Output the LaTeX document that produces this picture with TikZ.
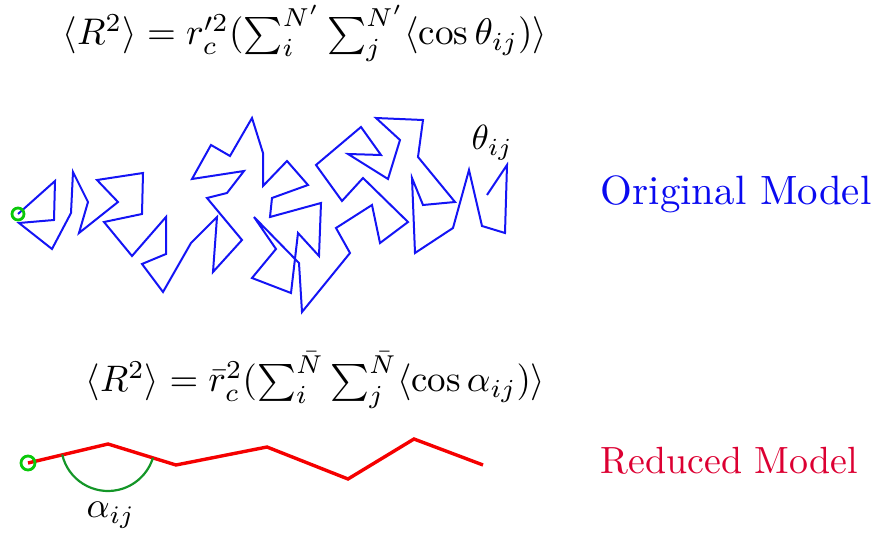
\documentclass[tikz,border=0pt]{standalone}
\usepackage{fontspec}
\usepackage{amsmath}
\usetikzlibrary{calc}
\definecolor{chainblue}{RGB}{20,20,245}
\definecolor{origblue}{RGB}{10,10,240}
\definecolor{redline}{RGB}{245,0,0}
\definecolor{redtext}{RGB}{220,0,50}
\definecolor{startgreen}{RGB}{10,200,10}
\definecolor{arcgreen}{RGB}{20,150,40}
\begin{document}
\begin{tikzpicture}[x=1pt,y=-1pt,
  lbl/.style={inner sep=0pt,anchor=base west},
  chainline/.style={draw=chainblue,line width=2pt,line join=miter},
  redchain/.style={draw=redline,line width=3.4pt,line join=miter},
  startmark/.style={draw=startgreen,line width=2.8pt}]
\useasboundingbox (0,0) rectangle (871,537);
% equations
\node[lbl,scale=3.71] (eqone) at (62,45) {$\langle R^2\rangle = r'^2_c(\sum_i^{N'}\sum_j^{N'}\langle\cos\theta_{ij})\rangle$};
\node[lbl,scale=3.69] (eqtwo) at (85,392) {$\langle R^2\rangle = \bar r^2_c(\sum_i^{\bar N}\sum_j^{\bar N}\langle\cos\alpha_{ij})\rangle$};
% labels
\node[lbl,scale=4.09,text=origblue] (orig) at (600,205) {Original Model};
\node[lbl,scale=3.79,text=redtext] (red) at (600,474) {Reduced Model};
\node[lbl,scale=3.5] (theta) at (471,150) {$\theta_{ij}$};
\node[lbl,scale=3.6] (alpha) at (86,518) {$\alpha_{ij}$};
% original chain
\draw[chainline] (18,214)--(55,181)--(54,220)--(19,223)--(52,249)--(71,213)--(73,172)--(88,202)--(79,233)--(118,202)--(97,180)--(143,173)--(142,214)--(104,222)--(132,256)--(166,217)--(166,254)--(142,264)--(163,292)--(191,243)--(217,217)--(213,272)--(242,240)--(207,198)--(227,193)--(244,171)--(192,179)--(211,145)--(230,156)--(252,118)--(263,153)--(263,186)--(287,161)--(308,185)--(272,198)--(270,217)--(321,203)--(319,256)--(298,233)--(291,293)--(252,278)--(276,249)--(254,217)--(299,263)--(302,312)--(350,253)--(336,228)--(372,205)--(380,243)--(408,222)--(363,178)--(342,201)--(316,165)--(361,127)--(381,155)--(348,154)--(388,179)--(400,140)--(376,118)--(423,120)--(418,157)--(455,202)--(423,205)--(412,178)--(415,253)--(453,228)--(469,170)--(482,226)--(505,233)--(507,165)--(487,195);
\draw[startmark] (18,214) circle[radius=6];
% reduced chain
\coordinate (r0) at (28,463);
\coordinate (r1) at (108,444);
\coordinate (r2) at (176,465);
\coordinate (r3) at (267,447);
\coordinate (r4) at (348,479);
\coordinate (r5) at (414,439);
\coordinate (r6) at (483,465);
\draw[redchain] (r0)--(r1)--(r2)--(r3)--(r4)--(r5)--(r6);
\draw[arcgreen,line width=2.2pt] ($(r1)+(167:47)$) arc[start angle=167,end angle=17,radius=47];
\draw[startmark] (r0) circle[radius=7];
\end{tikzpicture}
\end{document}
